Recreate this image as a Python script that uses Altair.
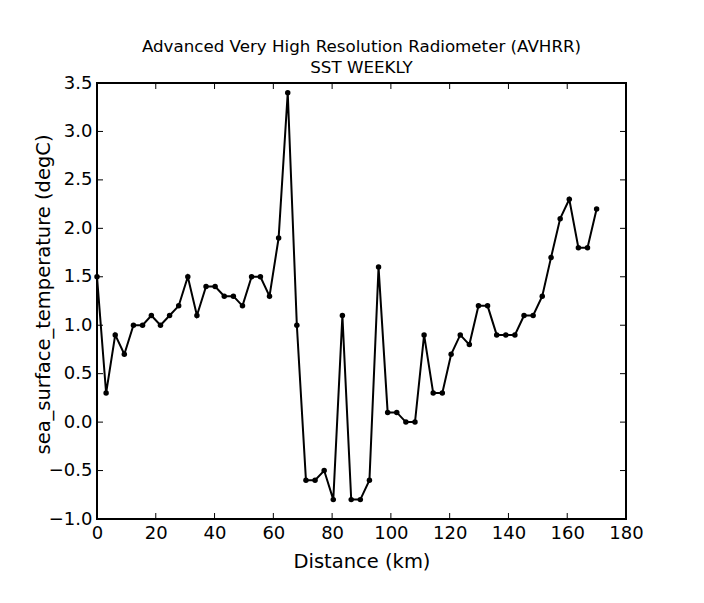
import altair as alt
import pandas as pd

distance_km = [0, 3.1, 6.2, 9.3, 12.4, 15.5, 18.5, 21.6, 24.7, 27.8, 30.9, 34.0, 37.1, 40.2,
               43.3, 46.4, 49.5, 52.6, 55.6, 58.7, 61.8, 64.9, 68.0, 71.1, 74.2, 77.3, 80.4,
               83.5, 86.5, 89.6, 92.7, 95.8, 98.9, 102.0, 105.1, 108.2, 111.3, 114.4, 117.5,
               120.5, 123.6, 126.7, 129.8, 132.9, 136.0, 139.1, 142.2, 145.3, 148.4, 151.5,
               154.5, 157.6, 160.7, 163.8, 166.9, 170.0]
sst_degc = [1.5, 0.3, 0.9, 0.7, 1.0, 1.0, 1.1, 1.0, 1.1, 1.2, 1.5, 1.1, 1.4, 1.4,
            1.3, 1.3, 1.2, 1.5, 1.5, 1.3, 1.9, 3.4, 1.0, -0.6, -0.6, -0.5, -0.8,
            1.1, -0.8, -0.8, -0.6, 1.6, 0.1, 0.1, 0.0, 0.0, 0.9, 0.3, 0.3,
            0.7, 0.9, 0.8, 1.2, 1.2, 0.9, 0.9, 0.9, 1.1, 1.1, 1.3,
            1.7, 2.1, 2.3, 1.8, 1.8, 2.2]
x_ticks = [0, 20, 40, 60, 80, 100, 120, 140, 160, 180]
y_ticks = [-1.0, -0.5, 0.0, 0.5, 1.0, 1.5, 2.0, 2.5, 3.0, 3.5]

W, H = 529, 436
FONT = "DejaVu Sans"

df = pd.DataFrame({"d": distance_km, "t": sst_degc})
xt = pd.DataFrame({"v": x_ticks})
yt = pd.DataFrame({"v": y_ticks})

xscale = alt.Scale(domain=[0, 180], nice=False, zero=False)
yscale = alt.Scale(domain=[-1.0, 3.5], nice=False, zero=False)

x_enc = alt.X("d:Q", scale=xscale,
              axis=alt.Axis(title="Distance (km)", values=x_ticks, format="d",
                            ticks=False, grid=False, domain=False, labelFlush=False,
                            labelOverlap=False,
                            labelPadding=5, titleX=W / 2, titleY=48,
                            titleBaseline="alphabetic", titleFontSize=19.5))
y_enc = alt.Y("t:Q", scale=yscale,
              axis=alt.Axis(title="sea_surface_temperature (degC)", values=y_ticks,
                            format=".1f", ticks=False, grid=False, domain=False,
                            labelFlush=False, labelOverlap=False,
                            labelPadding=5, titleX=-48, titleY=211,
                            titleBaseline="alphabetic", titleFontSize=19.5))

line = alt.Chart(df).mark_line(color="black", strokeWidth=2).encode(x=x_enc, y=y_enc)
pts = alt.Chart(df).mark_circle(color="black", size=30, opacity=1).encode(
    x=alt.X("d:Q", scale=xscale), y=alt.Y("t:Q", scale=yscale))

tl = 6
xb = alt.Chart(xt).mark_rule(color="black", strokeWidth=1).encode(
    x=alt.X("v:Q", scale=xscale), y=alt.value(H), y2=alt.value(H - tl))
xtop = alt.Chart(xt).mark_rule(color="black", strokeWidth=1).encode(
    x=alt.X("v:Q", scale=xscale), y=alt.value(0), y2=alt.value(tl))
yl = alt.Chart(yt).mark_rule(color="black", strokeWidth=1).encode(
    y=alt.Y("v:Q", scale=yscale), x=alt.value(0), x2=alt.value(tl))
yr = alt.Chart(yt).mark_rule(color="black", strokeWidth=1).encode(
    y=alt.Y("v:Q", scale=yscale), x=alt.value(W), x2=alt.value(W - tl))

chart = alt.layer(xb, xtop, yl, yr, line, pts).properties(
    width=W, height=H,
    background="white",
    title=alt.Title(["Advanced Very High Resolution Radiometer (AVHRR)", "SST WEEKLY"],
                    font=FONT, fontSize=16.7, fontWeight="normal", color="black",
                    anchor="middle", offset=-3, lineHeight=21),
    autosize=alt.AutoSizeParams(type="none"),
    padding={"left": 89, "top": 75, "right": 60, "bottom": 70},
).configure_view(stroke="black", strokeWidth=2, fill="white").configure_axis(
    labelFont=FONT, titleFont=FONT, labelFontSize=18,
    labelColor="black", titleColor="black", titleFontWeight="normal",
)

chart.save("out.html", embed_options={"renderer": "svg", "actions": False})
